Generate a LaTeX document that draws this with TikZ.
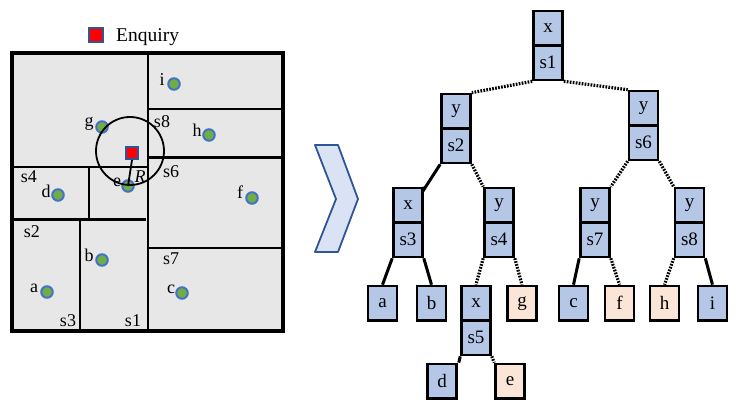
\documentclass[tikz,border=0pt]{standalone}
\usepackage{fontspec}
\setmainfont{Liberation Serif}
\definecolor{tblue}{HTML}{B4C7E7}
\definecolor{peach}{HTML}{FBE5D6}
\definecolor{ptgreen}{HTML}{70AD47}
\definecolor{ptblue}{HTML}{4472C4}
\definecolor{dkblue}{HTML}{2F5597}
\definecolor{chevfill}{HTML}{DAE3F3}
\definecolor{panelgray}{HTML}{E7E7E7}
\begin{document}
\begin{tikzpicture}[x=1pt,y=-1pt,
  tcell/.style={draw, line width=2.6pt, fill=tblue, minimum width=29pt, minimum height=34.5pt, inner sep=0pt, font=\fontsize{19}{19}\selectfont},
  pcell/.style={tcell, fill=peach},
  solidedge/.style={line width=3pt},
  dotedge/.style={line width=3.2pt, dash pattern=on 1.7pt off 1.3pt},
  pt/.style={circle, fill=ptgreen, draw=ptblue, line width=2pt, minimum size=11.5pt, inner sep=0pt},
  lbl/.style={inner sep=0pt, font=\fontsize{18}{18}\selectfont},
  wall/.style={line width=2.8pt},
  qsq/.style={rectangle, fill=red, draw=dkblue, line width=2pt, minimum size=12pt, inner sep=0pt}
]
\useasboundingbox (0,0) rectangle (736,411);

% ---- legend ----
\node[qsq, minimum size=14pt] (eqleg) at (96,35.5) {};
\node[anchor=base west, inner sep=0pt, font=\fontsize{19.5}{19.5}\selectfont] (eqtxt) at (116,41.7) {Enquiry};

% ---- left panel ----
\fill[panelgray] (12,53) rectangle (283,331);
\draw[wall] (148,53) -- (148,331);
\draw[wall] (148,109) -- (283,109);
\draw[wall] (148,157.5) -- (283,157.5);
\draw[wall] (12,167) -- (148,167);
\draw[wall] (89,167) -- (89,219);
\draw[wall] (12,219.5) -- (146,219.5);
\draw[wall] (80,219.5) -- (80,331);
\draw[wall] (148,248) -- (283,248);
\draw[line width=3.4pt] (12,53) rectangle (283,331);
\draw[line width=1.4pt] (283,53) -- (283,331);
\draw[line width=1.4pt] (12,331) -- (283,331);

% region labels
\node[lbl] (ls8) at (162,122) {s8};
\node[lbl] (ls6) at (171,172) {s6};
\node[lbl] (ls4) at (29,177) {s4};
\node[lbl] (ls2) at (32,232) {s2};
\node[lbl] (ls7) at (171,259) {s7};
\node[lbl] (ls3) at (68,321) {s3};
\node[lbl] (ls1) at (133,321) {s1};

% points
\node[pt] (pi) at (174,84) {};
\node[pt] (pg) at (102,127) {};
\node[pt] (ph) at (209,135) {};
\node[pt] (pe) at (128,186) {};
\node[pt] (pd) at (58,195) {};
\node[pt] (pf) at (252,198) {};
\node[pt] (pb) at (102,260) {};
\node[pt] (pa) at (47,292) {};
\node[pt] (pc) at (182,293) {};
\node[lbl] (li) at (162,80) {i};
\node[lbl] (lg) at (89,124) {g};
\node[lbl] (lh) at (197,130) {h};
\node[lbl] (le) at (117,182) {e};
\node[lbl] (ld) at (46,191) {d};
\node[lbl] (lf) at (240,192) {f};
\node[lbl] (lb) at (89,255) {b};
\node[lbl] (la) at (34,288) {a};
\node[lbl] (lc) at (171,289) {c};

% enquiry circle
\draw[line width=1.8pt] (130,151) circle (34);
\node[qsq] (eq) at (132,153) {};
\draw[line width=1.8pt] (eq.south) -- (pe.center);
\node[lbl, font=\fontsize{18}{18}\selectfont\itshape] (lR) at (140,177) {R};

% ---- chevron ----
\draw[fill=chevfill, draw=dkblue, line width=1.8pt, line join=round]
  (315,145) -- (338,145) -- (358,199) -- (338,252) -- (315,252) -- (336,199) -- cycle;

% ---- tree ----
\node[tcell] (r1) at (548,28.25) {x};
\node[tcell] (r2) at (548,62.75) {s1};
\node[tcell] (a1) at (456,111.25) {y};
\node[tcell] (a2) at (456,145.75) {s2};
\node[tcell] (b1) at (643.5,108.25) {y};
\node[tcell] (b2) at (643.5,142.75) {s6};
\node[tcell] (c1) at (408,205.25) {x};
\node[tcell] (c2) at (408,239.75) {s3};
\node[tcell] (d1) at (499,205.25) {y};
\node[tcell] (d2) at (499,239.75) {s4};
\node[tcell] (e1) at (595,205.25) {y};
\node[tcell] (e2) at (595,239.75) {s7};
\node[tcell] (f1) at (689.5,205.25) {y};
\node[tcell] (f2) at (689.5,239.75) {s8};
\node[tcell] (g1) at (476,303.25) {x};
\node[tcell] (g2) at (476,337.75) {s5};
\node[tcell] (ta) at (382.5,303.25) {a};
\node[tcell] (tb) at (431.5,303.25) {b};
\node[pcell] (tg) at (522,303.25) {g};
\node[tcell] (tc) at (573.5,303.25) {c};
\node[pcell] (tf) at (619.5,303.25) {f};
\node[pcell] (th) at (664.5,303.25) {h};
\node[tcell] (ti) at (712.5,303.25) {i};
\node[tcell] (td) at (442,381.25) {d};
\node[pcell] (te) at (510,381.25) {e};

\draw[dotedge] (r2.south west) -- (a1.north east);
\draw[dotedge] (r2.south east) -- (b1.north west);
\draw[solidedge] (a2.south west) -- ([yshift=-3pt]c1.north east) -- (c1.north east);
\draw[dotedge] (a2.south east) -- (d1.north west);
\draw[dotedge] (b2.south west) -- (e1.north east);
\draw[dotedge] (b2.south east) -- (f1.north west);
\draw[solidedge] (c2.south west) -- (ta.north);
\draw[solidedge] (c2.south east) -- (tb.north);
\draw[dotedge] (d2.south west) -- (g1.north);
\draw[dotedge] (d2.south east) -- (tg.north);
\draw[solidedge] (e2.south west) -- (tc.north);
\draw[dotedge] (e2.south east) -- (tf.north);
\draw[dotedge] (f2.south west) -- (th.north);
\draw[solidedge] (f2.south east) -- (ti.north);
\draw[solidedge] (g2.south west) -- ([xshift=1pt]td.north east);
\draw[dotedge] (g2.south east) -- (te.north west);
\end{tikzpicture}
\end{document}
